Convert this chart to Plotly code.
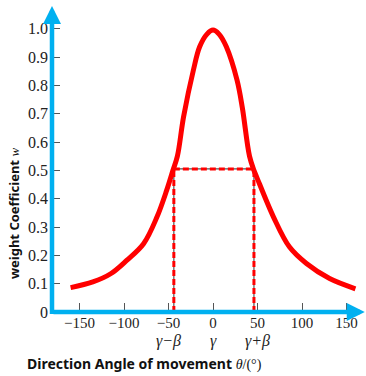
import plotly.graph_objects as go

# ---- data ----
theta = [-160, -135, -115, -97, -78, -63, -52, -45, -40, -33, -22, -15, -7, 0,
         7, 15, 27, 33, 41, 46, 49, 68, 86, 105, 131, 160]
weight = [0.086, 0.106, 0.135, 0.182, 0.241, 0.335, 0.43, 0.50, 0.55, 0.69, 0.854,
          0.936, 0.98, 0.995, 0.98, 0.936, 0.818, 0.72, 0.55, 0.50, 0.477, 0.335,
          0.229, 0.171, 0.118, 0.082]

beta_x = [-44, 46]          # gamma-beta, gamma+beta
half_w = 0.505              # weight at the dashed level

x_tickvals = [-150, -100, -50, 0, 50, 100, 150]
x_ticktext = ["\u2212150", "\u2212100", "\u221250", "0", "50", "100", "150"]
y_tickvals = [0, 0.1, 0.2, 0.3, 0.4, 0.5, 0.6, 0.7, 0.8, 0.9, 1.0]
y_ticktext = ["0", "0.1", "0.2", "0.3", "0.4", "0.5", "0.6", "0.7", "0.8", "0.9", "1.0"]

sym_x = [-50, 0, 50]
sym_text = ["\u03b3\u2212\u03b2", "\u03b3", "\u03b3+\u03b2"]

x_range = [-180.9, 171.9]
y_range = [0, 1.08]

BLUE = "#00B0F0"
RED = "#FF0000"
SERIF = "Liberation Serif"
SANS = "Noto Sans"

fig = go.Figure()

# dashed guide lines (gray core + red dashes)
dash_x = [beta_x[0], beta_x[0], None, beta_x[1], beta_x[1], None, beta_x[0], beta_x[1]]
dash_y = [0, half_w, None, 0, half_w, None, half_w, half_w]
fig.add_trace(go.Scatter(x=dash_x, y=dash_y, mode="lines",
                         line=dict(color="#555555", width=1.2), hoverinfo="skip"))
fig.add_trace(go.Scatter(x=dash_x, y=dash_y, mode="lines",
                         line=dict(color=RED, width=3, dash="6px,3px"), hoverinfo="skip"))

# main curve
fig.add_trace(go.Scatter(x=theta, y=weight, mode="lines",
                         line=dict(color=RED, width=5, shape="spline", smoothing=1.0),
                         hoverinfo="skip"))

annotations = []
# axes with arrows
annotations.append(dict(x=170.5, y=0, ax=x_range[0], ay=0, xref="x", yref="y",
                        axref="x", ayref="y", showarrow=True, arrowhead=2,
                        arrowsize=0.8, arrowwidth=4.5, arrowcolor=BLUE, text=""))
annotations.append(dict(x=x_range[0], y=1.08, ax=x_range[0], ay=-0.012, xref="x", yref="y",
                        axref="x", ayref="y", showarrow=True, arrowhead=2,
                        arrowsize=0.8, arrowwidth=4.5, arrowcolor=BLUE, text=""))

for xv, t in zip(sym_x, sym_text):
    annotations.append(dict(x=xv, y=-0.095, xref="x", yref="paper", text="<i>" + t + "</i>",
                            showarrow=False, font=dict(family=SERIF, size=16, color="#222"),
                            xanchor="center", yanchor="middle"))

annotations.append(dict(x=-0.086, y=-0.167, xref="paper", yref="paper",
                        text="<b>Direction Angle of movement</b> "
                             "<span style='font-family:Liberation Serif'><i>\u03b8</i>/(\u00b0)</span>",
                        showarrow=False, xanchor="left", yanchor="middle",
                        font=dict(family=SANS, size=14, color="#111")))
annotations.append(dict(x=-0.121, y=0.32, xref="paper", yref="paper",
                        text="<b>weight Coefficient</b> "
                             "<span style='font-family:Liberation Serif'><i>w</i></span>",
                        showarrow=False, textangle=-90, xanchor="center", yanchor="middle",
                        font=dict(family=SANS, size=13, color="#111")))

fig.update_layout(
    width=366, height=376,
    margin=dict(l=52, r=0, t=6, b=64, autoexpand=False),
    paper_bgcolor="white", plot_bgcolor="white",
    showlegend=False,
    annotations=annotations,
    xaxis=dict(range=x_range, tickvals=x_tickvals, ticktext=x_ticktext,
               showgrid=False, zeroline=False, showline=False, automargin=False,
               ticks="inside", ticklen=9, tickwidth=1, tickcolor="#555",
               tickfont=dict(family=SERIF, size=15, color="#222")),
    yaxis=dict(range=y_range, tickvals=y_tickvals, ticktext=y_ticktext,
               showgrid=False, zeroline=False, showline=False, automargin=False,
               ticks="inside", ticklen=8, tickwidth=1, tickcolor="#555",
               ticklabelstandoff=3,
               tickfont=dict(family=SERIF, size=16, color="#222")),
)

fig.write_html("out.html", config={"displayModeBar": False},
               post_script="document.body.style.margin='0';document.body.style.padding='0';")
